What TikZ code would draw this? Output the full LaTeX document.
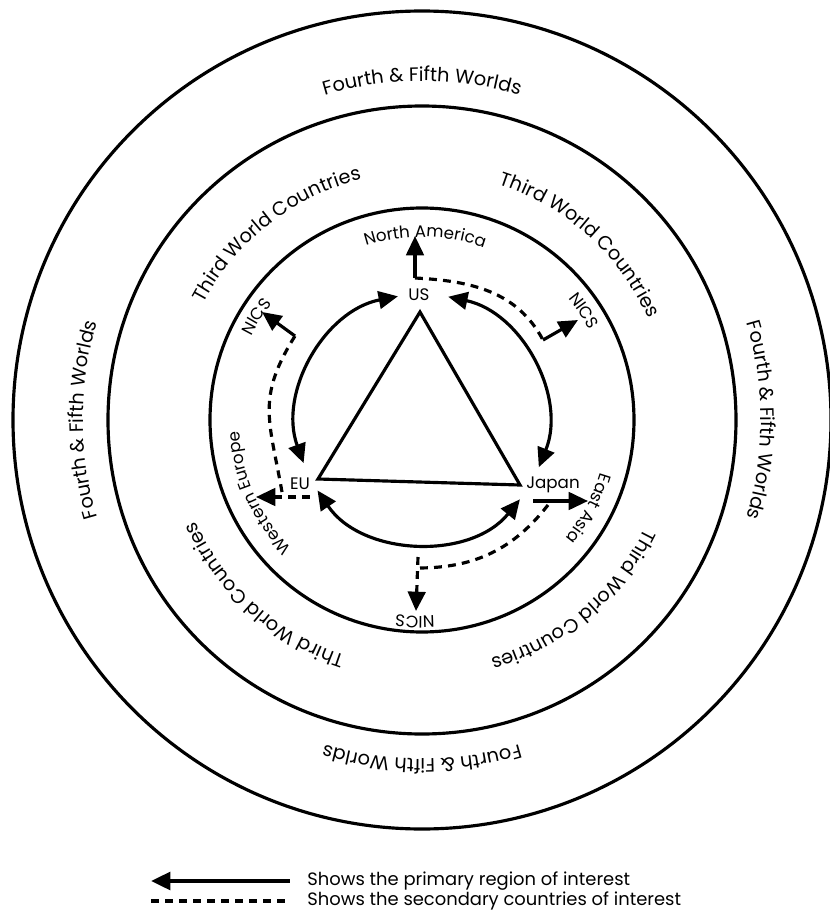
\documentclass[tikz,border=0pt]{standalone}
\usepackage{fontspec}
\setmainfont{Poppins}
\usetikzlibrary{arrows.meta, decorations.text}
\newcommand{\lblfont}{\fontsize{9.5}{11}\selectfont}
\newcommand{\ringfont}{\fontsize{11}{13}\selectfont}
\newcommand{\lgdfont}{\fontsize{10.2}{12}\selectfont}
\tikzset{
    ring/.style={line width=1.8pt},
    head/.style={-{Triangle[length=11pt, width=10pt]}},
    prim/.style={line width=1.8pt, head},
    sec/.style={line width=1.8pt, dash pattern=on 4.5pt off 3.5pt},
    twoway/.style={line width=1.8pt, {Triangle[length=11pt, width=10pt]}-{Triangle[length=11pt, width=10pt]}},
    lbl/.style={font=\lblfont, inner sep=0pt},
    lgd/.style={font=\lgdfont, inner sep=0pt, anchor=west},
}
% text set clockwise along a circle round (0,0): centre angle, radius, half span, text
\newcommand{\arclabel}[4]{%
    \path[decorate, decoration={text along path, text align=center, text={#4}}]
        (#1+#3:#2) arc[start angle=#1+#3, end angle=#1-#3, radius=#2];}

\begin{document}
\begin{tikzpicture}[x=0.02cm, y=0.02cm]
    \useasboundingbox (-422,-503) rectangle (408,420);
    \coordinate (C) at (0,0);

    % rings
    \draw[ring] (C) circle[radius=409];
    \draw[ring] (C) circle[radius=314];
    \draw[ring] (C) circle[radius=212];

    \foreach \ang in {90,0,180,-90}
        {\arclabel{\ang}{339}{40}{|\ringfont|Fourth {\&} Fifth Worlds}}
    \foreach \ang in {128,48,-50,-132}
        {\arclabel{\ang}{248}{48}{|\ringfont|Third World Countries}}

    \arclabel{89}{183}{35}{|\lblfont|North America}
    \arclabel{148}{190}{20}{|\lblfont|NICS}
    \arclabel{34}{190}{20}{|\lblfont|NICS}
    \arclabel{204}{183}{35}{|\lblfont|Western Europe}
    \arclabel{-28}{186}{25}{|\lblfont|East Asia}
    \arclabel{-92}{196}{20}{|\lblfont|NICS}

    % triangle
    \coordinate (apex) at (-2,108);
    \coordinate (euV) at (-104,-59);
    \coordinate (jpV) at (98,-65);
    \draw[ring] (apex) -- (euV) -- (jpV) -- cycle;

    \node[lbl] (US) at (-3,125) {US};
    \node[lbl] (EU) at (-122,-64) {EU};
    \node[lbl] (JP) at (131,-65) {Japan};

    % two way arcs
    \coordinate (usL) at (101:126);
    \coordinate (usR) at (78:126);
    \coordinate (euT) at (200:126);
    \coordinate (euB) at (214:126);
    \coordinate (jpT) at (-22:126);
    \coordinate (jpB) at (-39:126);
    \draw[twoway] (usL) to[out=191, in=110] (euT);
    \draw[twoway] (usR) to[out=-12, in=68] (jpT);
    \draw[twoway] (euB) to[out=-56, in=-129] (jpB);

    % US
    \coordinate (naB) at (-7,142);
    \coordinate (naT) at (-7,184);
    \coordinate (nrC) at (121,80);
    \coordinate (nrT) at (156,100);
    \draw[prim] (naB) -- (naT);
    \draw[sec] (naB) to[out=-3, in=118] (nrC);
    \draw[prim] (nrC) -- (nrT);

    % EU
    \coordinate (euS) at (-112,-77);
    \coordinate (weT) at (-166,-77);
    \coordinate (euC) at (-140,-72);
    \coordinate (nlC) at (-127,84);
    \coordinate (nlT) at (-160,108);
    \draw[sec, head] (euS) -- (weT);
    \draw[sec] (euC) to[out=100, in=-122, looseness=1.2] (nlC);
    \draw[prim] (nlC) -- (nlT);

    % Japan
    \coordinate (jpS) at (111,-81);
    \coordinate (eaT) at (166,-81);
    \coordinate (jpD) at (126,-85);
    \coordinate (nbC) at (-4,-148);
    \coordinate (nbV) at (-4,-137);
    \coordinate (nbT) at (-6,-191);
    \draw[prim] (jpS) -- (eaT);
    \draw[sec] (jpD) to[out=-128, in=0] (nbC);
    \draw[sec, head] (nbV) -- (nbT);

    % legend
    \coordinate (lgA0) at (-132,-461);
    \coordinate (lgA1) at (-271,-461);
    \coordinate (lgB0) at (-271,-481);
    \coordinate (lgB1) at (-132,-481);
    \draw[prim, line width=2.2pt] (lgA0) -- (lgA1);
    \draw[sec] (lgB0) -- (lgB1);
    \node[lgd] (lgTxtA) at (-115,-461) {Shows the primary region of interest};
    \node[lgd] (lgTxtB) at (-115,-481) {Shows the secondary countries of interest};
\end{tikzpicture}
\end{document}
